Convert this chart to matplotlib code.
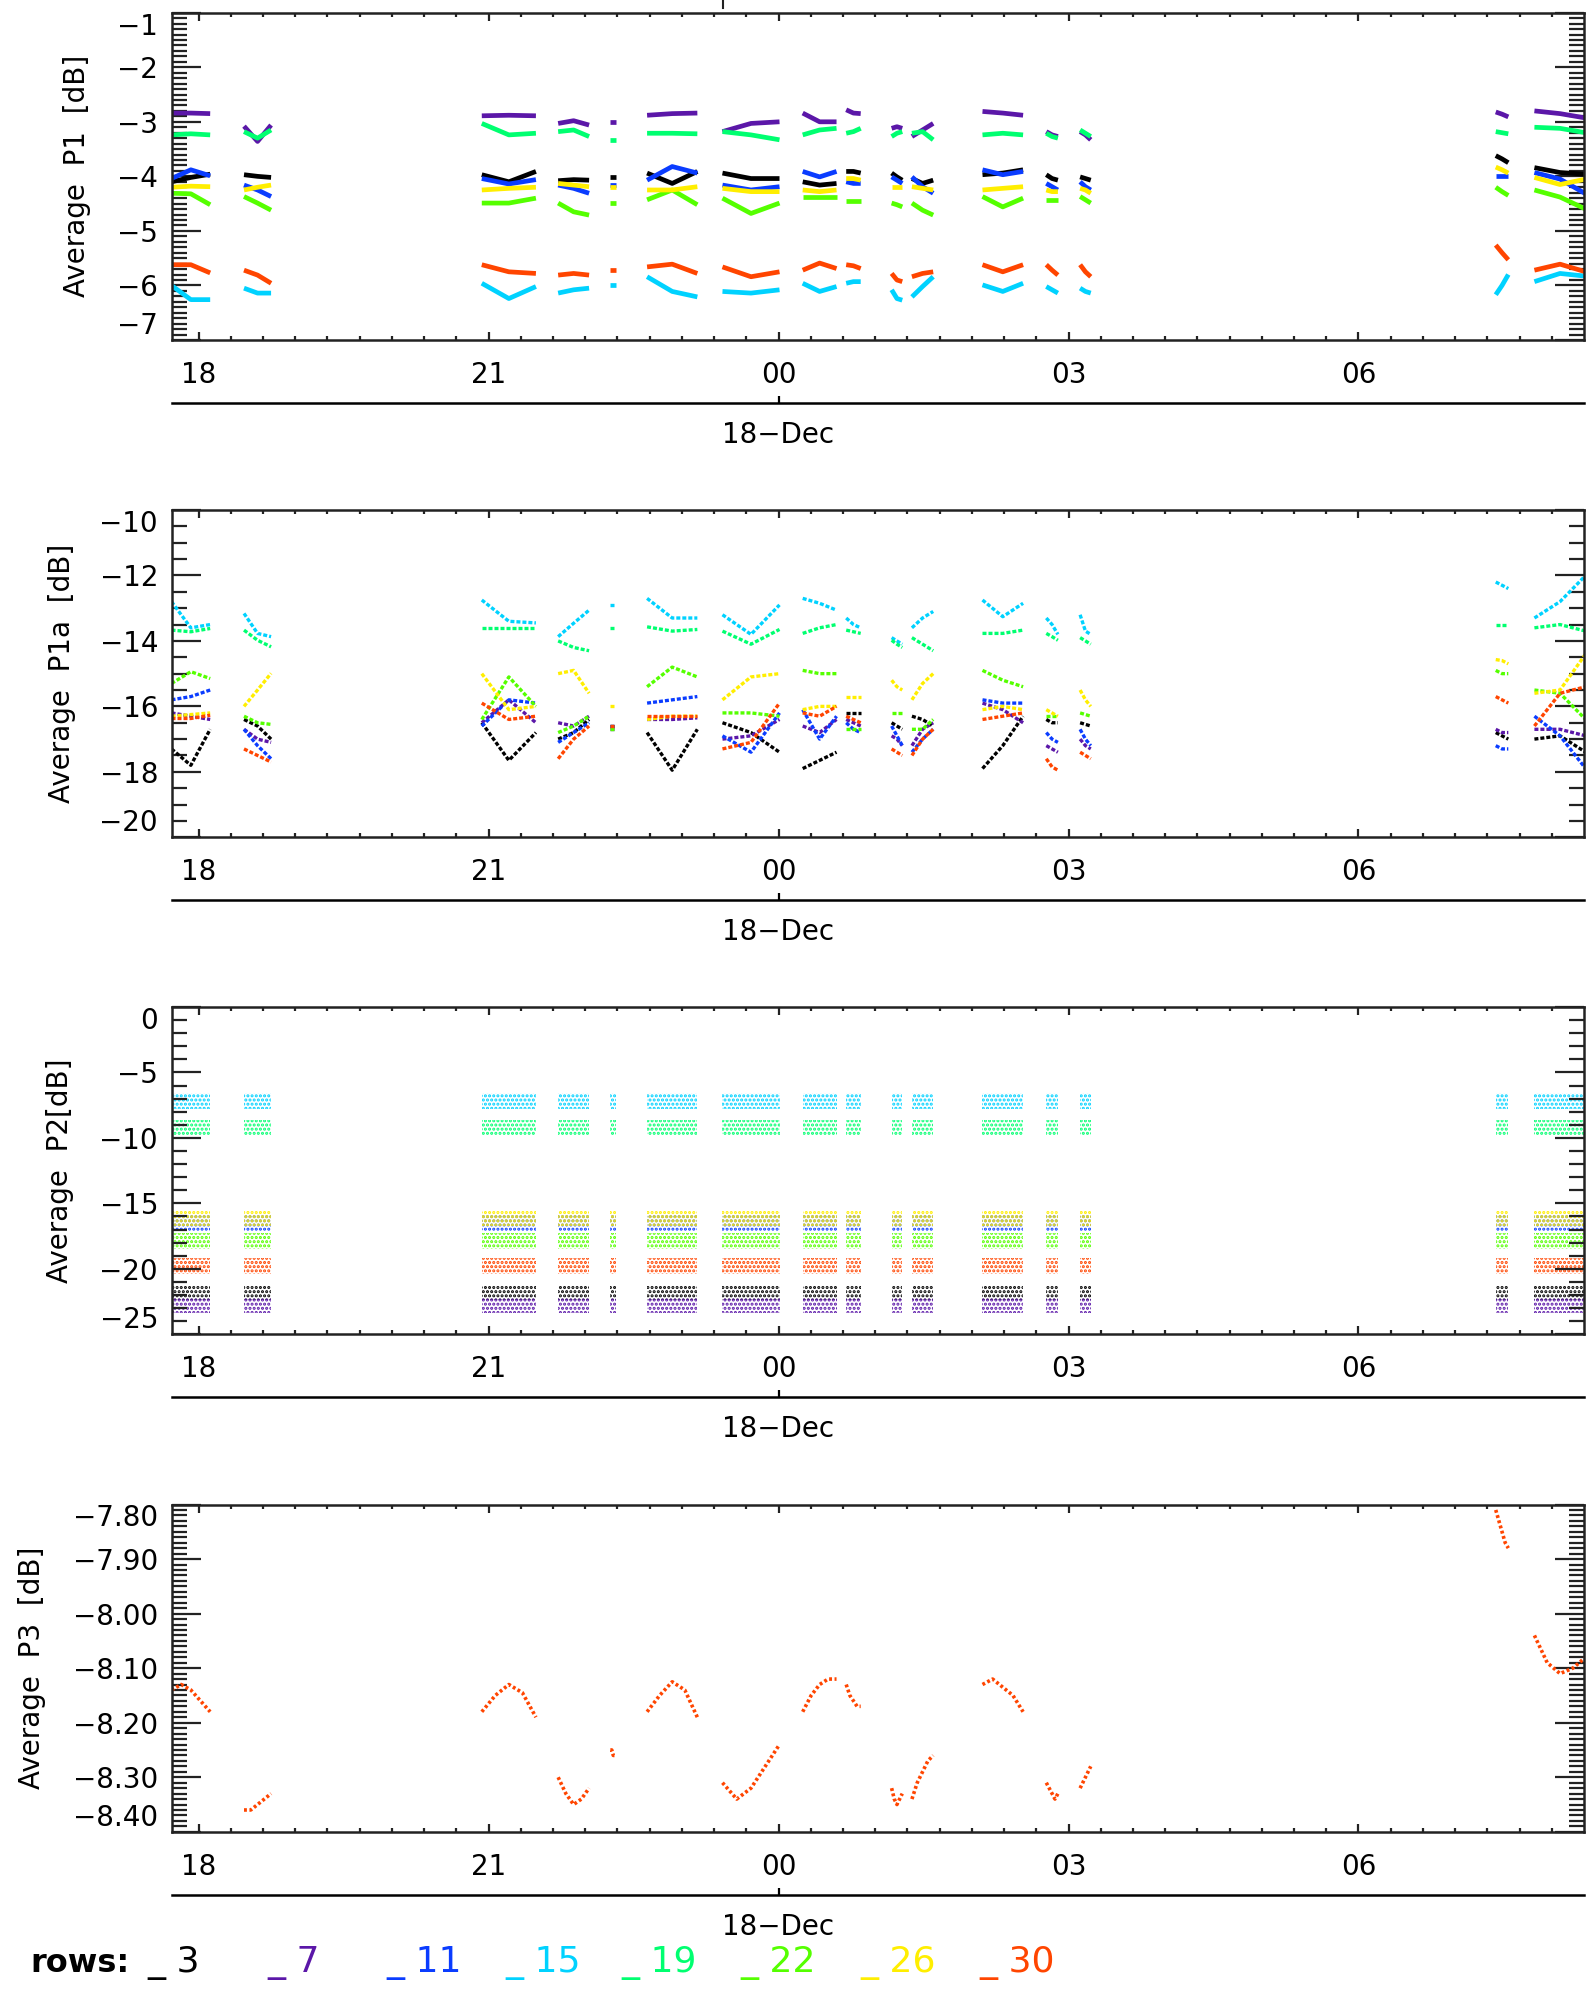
import matplotlib.pyplot as plt
import numpy as np
from matplotlib.lines import Line2D
from matplotlib.ticker import MultipleLocator, NullLocator

plt.rcParams['font.family'] = ['DejaVu Sans']
plt.rcParams['hatch.linewidth'] = 1.5

W, H = 1589, 1989

# time axis: hours relative to 18-Dec 00:00
x_lo, x_hi = -6.275, 8.333
hour_ticks = [-6, -3, 0, 3, 6]
hour_labels = ['18', '21', '00', '03', '06']

# observation windows (start / end, hours)
seg_start = [-6.28, -5.53, -3.07, -2.28, -1.74, -1.36, -0.58, 0.25, 0.70, 1.17, 1.38, 2.11, 2.77, 3.12, 7.42, 7.82]
seg_end = [-5.88, -5.25, -2.51, -1.96, -1.68, -0.84, 0.01, 0.60, 0.85, 1.28, 1.60, 2.53, 2.89, 3.23, 7.55, 8.35]

rows = [3, 7, 11, 15, 19, 22, 26, 30]
row_colors = ['#000000', '#5b17a8', '#0a3cff', '#00d2ff', '#00ff70', '#55ff00', '#ffee00', '#ff4500']

# Average P1 [dB]: start / middle / end of each window, per row
p1_r3 = [-4.10, -4.02, -3.96, -3.97, -4.00, -4.02, -3.97, -4.10, -3.91, -4.08, -4.06, -4.07,
         -4.02, -4.02, -4.02, -3.94, -4.13, -3.91, -3.94, -4.04, -4.04, -4.10, -4.16, -4.13,
         -3.91, -3.91, -3.94, -3.94, -4.01, -4.07, -4.04, -4.13, -4.07, -3.97, -3.94, -3.88,
         -3.97, -4.04, -4.07, -4.01, -4.04, -4.07, -3.62, -3.68, -3.75, -3.84, -3.93, -3.96]
p1_r7 = [-2.84, -2.84, -2.85, -3.08, -3.36, -3.06, -2.89, -2.88, -2.89, -3.03, -2.98, -3.06,
         -3.00, -3.00, -3.00, -2.88, -2.85, -2.84, -3.18, -3.03, -3.00, -2.84, -3.00, -3.00,
         -2.78, -2.84, -2.85, -3.12, -3.09, -3.12, -3.27, -3.15, -3.03, -2.81, -2.84, -2.88,
         -3.18, -3.24, -3.27, -3.18, -3.24, -3.33, -2.82, -2.86, -2.91, -2.80, -2.85, -2.93]
p1_r11 = [-4.04, -3.88, -3.99, -4.16, -4.25, -4.37, -4.04, -4.14, -4.06, -4.16, -4.22, -4.31,
          -4.16, -4.16, -4.16, -4.07, -3.82, -3.94, -4.16, -4.25, -4.19, -3.91, -4.01, -3.91,
          -4.10, -4.13, -4.13, -4.01, -4.07, -4.13, -4.01, -4.19, -4.31, -3.88, -3.97, -3.91,
          -4.13, -4.19, -4.25, -4.10, -4.19, -4.25, -4.00, -4.00, -4.00, -3.93, -4.05, -4.32]
p1_r15 = [-6.00, -6.26, -6.26, -6.05, -6.14, -6.14, -5.96, -6.24, -6.02, -6.14, -6.08, -6.05,
          -5.99, -5.99, -5.99, -5.84, -6.11, -6.21, -6.11, -6.14, -6.08, -5.96, -6.11, -6.02,
          -5.96, -5.93, -5.93, -6.08, -6.24, -6.27, -6.21, -6.02, -5.84, -5.99, -6.11, -5.96,
          -6.02, -6.08, -6.14, -6.05, -6.11, -6.14, -6.17, -6.00, -5.80, -5.93, -5.78, -5.83]
p1_r19 = [-3.24, -3.22, -3.24, -3.18, -3.30, -3.15, -3.03, -3.24, -3.21, -3.18, -3.15, -3.27,
          -3.33, -3.33, -3.33, -3.21, -3.21, -3.22, -3.18, -3.24, -3.33, -3.24, -3.15, -3.12,
          -3.21, -3.18, -3.12, -3.27, -3.21, -3.18, -3.21, -3.18, -3.33, -3.24, -3.21, -3.24,
          -3.21, -3.27, -3.30, -3.15, -3.21, -3.27, -3.18, -3.20, -3.22, -3.10, -3.12, -3.20]
p1_r22 = [-4.31, -4.32, -4.52, -4.37, -4.49, -4.62, -4.49, -4.49, -4.40, -4.49, -4.65, -4.71,
          -4.49, -4.49, -4.49, -4.43, -4.25, -4.52, -4.40, -4.68, -4.49, -4.37, -4.37, -4.37,
          -4.46, -4.46, -4.46, -4.49, -4.52, -4.56, -4.49, -4.62, -4.71, -4.37, -4.56, -4.40,
          -4.43, -4.43, -4.43, -4.37, -4.43, -4.49, -4.20, -4.28, -4.35, -4.25, -4.38, -4.60]
p1_r26 = [-4.20, -4.18, -4.19, -4.25, -4.20, -4.16, -4.25, -4.22, -4.20, -4.13, -4.16, -4.19,
          -4.19, -4.19, -4.19, -4.25, -4.25, -4.19, -4.22, -4.28, -4.28, -4.25, -4.28, -4.25,
          -4.04, -4.04, -4.07, -4.19, -4.19, -4.19, -4.19, -4.22, -4.25, -4.25, -4.22, -4.19,
          -4.25, -4.28, -4.28, -4.22, -4.25, -4.31, -3.83, -3.88, -3.94, -4.02, -4.15, -4.05]
p1_r30 = [-5.62, -5.62, -5.77, -5.72, -5.81, -5.96, -5.62, -5.75, -5.78, -5.81, -5.78, -5.81,
          -5.72, -5.72, -5.72, -5.66, -5.61, -5.78, -5.66, -5.84, -5.75, -5.72, -5.59, -5.69,
          -5.62, -5.64, -5.69, -5.78, -5.90, -5.93, -5.84, -5.78, -5.75, -5.62, -5.75, -5.62,
          -5.62, -5.72, -5.81, -5.62, -5.75, -5.84, -5.26, -5.40, -5.53, -5.72, -5.61, -5.75]

# Average P1a [dB]
p1a_r3 = [-17.3, -17.8, -16.7, -16.4, -16.6, -17.0, -16.5, -17.65, -16.8, -17.0, -16.8, -16.4,
          -16.6, -16.6, -16.6, -16.8, -17.95, -16.7, -16.5, -16.8, -17.4, -17.9, -17.65, -17.4,
          -16.2, -16.2, -16.2, -16.5, -16.6, -16.7, -16.3, -16.4, -16.6, -17.9, -17.2, -16.3,
          -16.4, -16.5, -16.5, -16.5, -16.55, -16.6, -16.8, -16.9, -17.0, -17.0, -16.9, -17.4]
p1a_r7 = [-16.2, -16.3, -16.4, -16.7, -17.0, -17.1, -16.5, -15.8, -16.5, -16.5, -16.6, -16.3,
          -16.7, -16.7, -16.7, -16.4, -16.4, -16.35, -17.0, -16.9, -16.4, -16.6, -16.8, -16.4,
          -16.4, -16.5, -16.6, -16.9, -17.0, -17.2, -17.2, -16.7, -16.5, -15.9, -16.1, -16.5,
          -17.2, -17.3, -17.4, -17.0, -17.2, -17.3, -16.7, -16.8, -16.8, -16.7, -16.7, -16.9]
p1a_r11 = [-15.8, -15.7, -15.5, -16.7, -17.2, -17.6, -16.6, -15.8, -15.9, -17.1, -16.8, -16.5,
           -16.6, -16.6, -16.6, -15.9, -15.8, -15.7, -16.9, -17.4, -16.2, -16.1, -17.0, -16.3,
           -16.5, -16.7, -16.8, -16.6, -16.9, -17.2, -17.4, -17.0, -16.7, -15.8, -15.9, -15.9,
           -16.8, -17.0, -17.1, -16.7, -17.0, -17.2, -17.2, -17.3, -17.3, -16.3, -16.9, -17.9]
p1a_r15 = [-12.8, -13.6, -13.5, -13.16, -13.77, -13.87, -12.75, -13.4, -13.45, -13.87, -13.46, -13.06,
           -12.9, -12.9, -12.9, -12.7, -13.3, -13.3, -13.2, -13.8, -12.9, -12.7, -12.85, -13.06,
           -13.3, -13.5, -13.6, -13.9, -14.0, -14.1, -13.6, -13.3, -13.1, -12.75, -13.26, -12.85,
           -13.3, -13.5, -13.8, -13.2, -13.7, -13.8, -12.2, -12.3, -12.4, -13.3, -12.8, -12.0]
p1a_r19 = [-13.67, -13.72, -13.62, -13.67, -13.98, -14.18, -13.6, -13.6, -13.6, -14.0, -14.2, -14.3,
           -13.6, -13.6, -13.6, -13.57, -13.7, -13.65, -13.7, -14.1, -13.65, -13.77, -13.6, -13.5,
           -13.67, -13.72, -13.77, -13.98, -14.1, -14.2, -13.9, -14.1, -14.3, -13.77, -13.77, -13.67,
           -13.77, -13.87, -13.98, -13.9, -14.0, -14.1, -13.5, -13.5, -13.5, -13.6, -13.5, -13.7]
p1a_r22 = [-15.3, -14.94, -15.15, -16.3, -16.5, -16.55, -16.4, -15.1, -16.0, -16.8, -16.6, -16.3,
           -16.7, -16.7, -16.7, -15.4, -14.8, -15.1, -16.2, -16.2, -16.3, -14.9, -15.0, -15.0,
           -16.7, -16.7, -16.7, -16.2, -16.2, -16.2, -16.7, -16.7, -16.4, -14.9, -15.2, -15.4,
           -16.3, -16.3, -16.3, -16.2, -16.25, -16.3, -14.9, -15.0, -15.0, -15.5, -15.6, -16.4]
p1a_r26 = [-16.3, -16.25, -16.2, -16.0, -15.5, -14.99, -15.0, -16.1, -16.0, -15.0, -14.9, -15.6,
           -16.0, -16.0, -16.0, -16.4, -16.3, -16.3, -15.8, -15.1, -15.0, -16.1, -16.0, -16.0,
           -15.7, -15.7, -15.7, -15.2, -15.4, -15.5, -15.8, -15.3, -15.0, -16.1, -16.0, -16.1,
           -16.1, -16.2, -16.3, -15.5, -15.8, -16.0, -14.57, -14.6, -14.7, -15.6, -15.5, -14.4]
p1a_r30 = [-16.37, -16.37, -16.27, -17.3, -17.5, -17.7, -15.9, -16.4, -16.3, -17.6, -17.0, -16.6,
           -16.6, -16.6, -16.6, -16.3, -16.3, -16.3, -17.3, -17.1, -15.9, -16.2, -16.3, -16.0,
           -16.3, -16.4, -16.5, -17.3, -17.4, -17.5, -17.5, -17.0, -16.7, -16.4, -16.3, -16.2,
           -17.6, -17.85, -17.95, -17.4, -17.5, -17.6, -15.7, -15.8, -15.9, -16.6, -15.6, -15.4]

# Average P2 [dB]: level of each row (flat, noisy bands)
p2_levels = [-21.8, -22.8, -16.5, -7.2, -9.2, -17.9, -16.1, -19.8]
p2_band = 0.6

# Average P3 [dB], row 30 only: five samples across each window
p3_r30 = [-8.14, -8.13, -8.14, -8.16, -8.18,
          -8.36, -8.36, -8.35, -8.34, -8.33,
          -8.18, -8.15, -8.13, -8.145, -8.19,
          -8.30, -8.33, -8.35, -8.34, -8.32,
          -8.25, -8.25, -8.26, -8.26, -8.26,
          -8.18, -8.15, -8.125, -8.14, -8.19,
          -8.31, -8.34, -8.32, -8.28, -8.24,
          -8.18, -8.15, -8.13, -8.12, -8.12,
          -8.13, -8.15, -8.16, -8.17, -8.17,
          -8.32, -8.34, -8.35, -8.34, -8.33,
          -8.34, -8.31, -8.29, -8.27, -8.26,
          -8.13, -8.12, -8.135, -8.15, -8.18,
          -8.31, -8.32, -8.33, -8.34, -8.33,
          -8.32, -8.31, -8.30, -8.29, -8.28,
          -7.81, -7.83, -7.85, -7.87, -7.88,
          -8.04, -8.09, -8.11, -8.10, -8.08]

p1_rows = [p1_r3, p1_r7, p1_r11, p1_r15, p1_r19, p1_r22, p1_r26, p1_r30]
p1a_rows = [p1a_r3, p1a_r7, p1a_r11, p1a_r15, p1a_r19, p1a_r22, p1a_r26, p1a_r30]

panel_top = [12.7, 510, 1007, 1504.5]
panel_h = 327.3
ax_left, ax_right = 172, 1584
FS = 20


def style_axis(ax, yticks, yfmt, yminor, ylabel, label_x):
    ax.set_xlim(x_lo, x_hi)
    ax.set_ylim(yticks[0], yticks[-1])
    ax.set_xticks(hour_ticks)
    ax.set_xticklabels(hour_labels)
    ax.xaxis.set_minor_locator(MultipleLocator(1 / 3))
    ax.set_yticks(yticks)
    ax.set_yticklabels([yfmt.format(v).replace('-', '\u2212') for v in yticks])
    ax.yaxis.set_minor_locator(MultipleLocator(yminor))
    ax.tick_params(which='both', direction='in', top=True, right=True, width=1.6, color='#222222')
    ax.tick_params(axis='x', which='major', length=6, pad=15, labelsize=FS)
    ax.tick_params(axis='x', which='minor', length=3)
    ax.tick_params(axis='y', which='major', length=21, pad=10, labelsize=FS)
    ax.tick_params(axis='y', which='minor', length=11)
    for s in ax.spines.values():
        s.set_linewidth(1.8)
        s.set_color('#222222')
    labs = ax.get_yticklabels()
    labs[0].set_va('bottom')
    labs[-1].set_va('top')
    # date axis below
    sec = ax.secondary_xaxis(-63 / panel_h)
    sec.set_xticks([0])
    sec.set_xticklabels(['18\u2212Dec'])
    sec.xaxis.set_minor_locator(NullLocator())
    sec.tick_params(direction='in', length=5, width=1.6, pad=13, labelsize=FS)
    sec.spines['bottom'].set_linewidth(1.8)
    pos = ax.get_position()
    fig.text(label_x / W, pos.y0 + pos.height / 2, ylabel, rotation=90,
             ha='center', va='center', fontsize=FS)


fig = plt.figure(figsize=(W / 100, H / 100), dpi=100)
axes = []
for top in panel_top:
    axes.append(fig.add_axes([ax_left / W, 1 - (top + panel_h) / H,
                              (ax_right - ax_left) / W, panel_h / H]))

t0 = np.array(seg_start)
t1 = np.array(seg_end)
x3 = np.column_stack([t0, (t0 + t1) / 2, t1])
x5 = np.column_stack([t0 + (t1 - t0) * f for f in (0, 0.25, 0.5, 0.75, 1)])

# panel 1: P1
ax = axes[0]
for vals, col in zip(p1_rows, row_colors):
    v = np.array(vals).reshape(-1, 3)
    for k in range(len(seg_start)):
        ax.plot(x3[k], v[k], color=col, lw=3.4, solid_capstyle='butt')
style_axis(ax, [-7, -6, -5, -4, -3, -2, -1], '{:.0f}', 0.1, 'Average  P1  [dB]', 77)

# panel 2: P1a
ax = axes[1]
for vals, col in zip(p1a_rows, row_colors):
    v = np.array(vals).reshape(-1, 3)
    for k in range(len(seg_start)):
        ax.plot(x3[k], v[k], color=col, lw=2.4, ls=(0, (1.2, 0.6)), solid_capstyle='butt')
style_axis(ax, [-20, -18, -16, -14, -12, -10], '{:.0f}', 0.5, 'Average  P1a  [dB]', 62)

# panel 3: P2
ax = axes[2]
for lev, col in zip(p2_levels, row_colors):
    for k in range(len(seg_start)):
        ax.fill_between([t0[k], t1[k]], lev - p2_band, lev + p2_band, facecolor='none',
                        edgecolor=col, hatch='....', lw=0)
style_axis(ax, [-25, -20, -15, -10, -5, 0], '{:.0f}', 1, 'Average  P2[dB]', 60)

# panel 4: P3
ax = axes[3]
v = np.array(p3_r30).reshape(-1, 5)
for k in range(len(seg_start)):
    ax.plot(x5[k], v[k], color=row_colors[-1], lw=2.6, ls=(0, (0.8, 0.7)))
style_axis(ax, [-8.4, -8.3, -8.2, -8.1, -8.0, -7.9, -7.8], '{:.2f}', 0.01, 'Average  P3  [dB]', 32)

# small mark at the top edge
fig.add_artist(Line2D([723 / W, 723 / W], [1, 1 - 8 / H], color='#222222', lw=1.5))

# row legend
leg_y = 1 - 1963 / H
fig.text(30 / W, leg_y, 'rows:', fontsize=FS + 3, fontweight='bold', va='center', ha='left')
leg_x = [147, 267, 386, 505, 621, 740, 860, 979]
for r, col, lx in zip(rows, row_colors, leg_x):
    fig.text(lx / W, leg_y, '_ ' + str(r), color=col, fontsize=FS + 6, va='center', ha='left')

fig.savefig('out.png', dpi=100)
plt.close(fig)
